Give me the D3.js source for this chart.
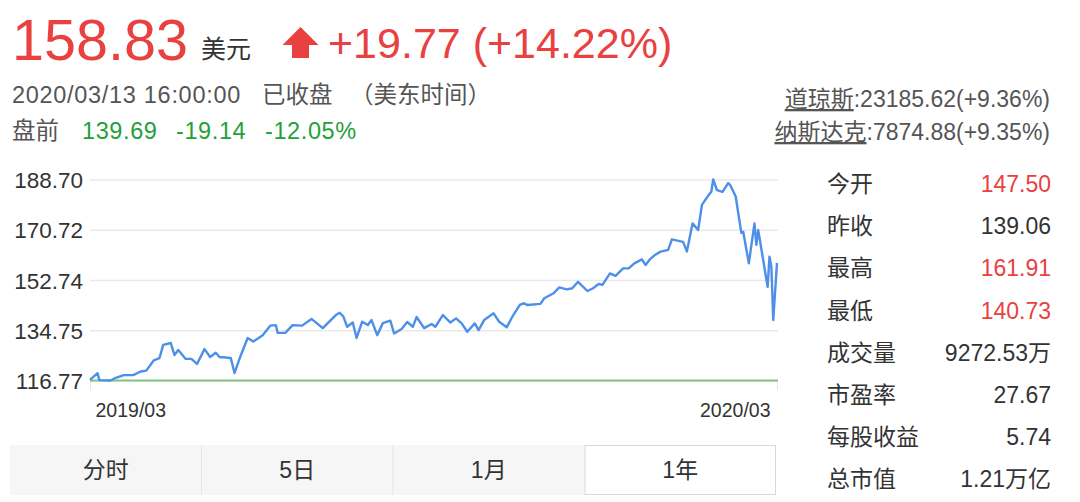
<!DOCTYPE html>
<html><head><meta charset="utf-8">
<script src="https://cdn.jsdelivr.net/npm/d3@7"></script>
<style>
html,body{margin:0;padding:0;background:#fff;}
svg{display:block;}
</style></head>
<body>
<svg id="c" width="1080" height="502"></svg>
<script>
// ---------- data ----------
const quotePrice = "158.83";
const quoteCurrency = "美元";
const quoteChange = "+19.77 (+14.22%)";
const quoteTime = "2020/03/13 16:00:00";
const quoteStatus = "已收盘";
const quoteZone = "（美东时间）";
const preLabel = "盘前";
const preValues = ["139.69", "-19.14", "-12.05%"];
const indexNames = ["道琼斯", "纳斯达克"];
const indexValues = [":23185.62(+9.36%)", ":7874.88(+9.35%)"];
const statLabels = ["今开", "昨收", "最高", "最低", "成交量", "市盈率", "每股收益", "总市值"];
const statValues = ["147.50", "139.06", "161.91", "140.73", "9272.53万", "27.67", "5.74", "1.21万亿"];
const statUp = [true, false, true, true, false, false, false, false];
const tabLabels = ["分时", "5日", "1月", "1年"];
const activeTab = 3;
const yTicks = [116.77, 134.75, 152.74, 170.72, 188.70];
const xTickDates = ["2019-03-13", "2020-03-13"];

const dates = ["2019-03-13","2019-03-17","2019-03-18","2019-03-24","2019-03-26","2019-03-31","2019-04-05","2019-04-09","2019-04-12","2019-04-16",
"2019-04-19","2019-04-21","2019-04-25","2019-04-27","2019-04-29","2019-05-03","2019-05-06","2019-05-09","2019-05-13","2019-05-16",
"2019-05-19","2019-05-21","2019-05-27","2019-05-29","2019-06-01","2019-06-05","2019-06-08","2019-06-13","2019-06-17","2019-06-20",
"2019-06-21","2019-06-25","2019-06-29","2019-07-04","2019-07-09","2019-07-15","2019-07-19","2019-07-22","2019-07-24","2019-07-26",
"2019-07-28","2019-07-31","2019-08-02","2019-08-05","2019-08-08","2019-08-10","2019-08-13","2019-08-16","2019-08-20","2019-08-22",
"2019-08-26","2019-08-29","2019-09-01","2019-09-03","2019-09-07","2019-09-11","2019-09-13","2019-09-17","2019-09-21","2019-09-24",
"2019-09-27","2019-09-30","2019-10-04","2019-10-06","2019-10-09","2019-10-14","2019-10-17","2019-10-21","2019-10-24","2019-10-28",
"2019-10-30","2019-11-01","2019-11-08","2019-11-10","2019-11-15","2019-11-18","2019-11-22","2019-11-25","2019-11-28","2019-12-03",
"2019-12-06","2019-12-09","2019-12-11","2019-12-15","2019-12-18","2019-12-22","2019-12-25","2019-12-28","2020-01-01","2020-01-03",
"2020-01-05","2020-01-08","2020-01-11","2020-01-15","2020-01-17","2020-01-20","2020-01-23","2020-01-25","2020-01-28","2020-01-31",
"2020-02-02","2020-02-05","2020-02-07","2020-02-08","2020-02-10","2020-02-13","2020-02-16","2020-02-17","2020-02-20","2020-02-23",
"2020-02-24","2020-02-27","2020-03-01","2020-03-02","2020-03-03","2020-03-08","2020-03-09","2020-03-10","2020-03-11","2020-03-13"];
const closes = [117.0,119.4,116.9,116.77,117.5,118.7,118.7,120.0,120.3,124.0,
124.8,129.5,130.2,125.9,127.7,124.5,124.5,122.7,128.0,125.2,
126.7,125.2,124.8,119.4,125.2,132.0,130.7,133.0,136.4,136.6,
133.8,133.8,136.6,136.4,138.8,135.5,138.2,140.2,141.0,139.6,
136.0,137.5,132.0,137.8,136.6,138.4,133.0,137.3,138.2,133.6,
135.2,137.7,136.0,139.5,135.5,137.0,136.0,140.2,137.5,139.0,
137.2,134.2,137.2,134.8,138.4,140.8,137.8,135.8,139.6,143.8,
144.4,143.8,144.2,146.2,148.0,150.1,149.4,149.8,152.1,148.8,
149.8,151.3,151.0,155.1,154.2,156.9,156.9,158.7,160.1,158.1,
159.9,161.7,162.9,163.5,167.3,166.8,166.4,162.9,173.0,170.6,
179.6,182.6,184.3,188.70,184.9,184.3,187.4,186.8,182.6,169.6,
170.0,158.7,173.0,165.3,170.6,150.3,161.1,157.5,138.4,158.83];

// ---------- drawing ----------
const svg = d3.select("#c");
const LAT = "'Liberation Sans', Arial, 'Noto Sans CJK SC', sans-serif";
const RED = "#e8413f", GREEN = "#24a03a", DARK = "#333", GRAY = "#555";
svg.append("rect").attr("width",1080).attr("height",502).attr("fill","#fff");

// header
svg.append("text").attr("x",12).attr("y",60).attr("font-family",LAT).attr("font-size",57.5)
  .attr("fill",RED).text(quotePrice);
svg.append("text").attr("x",201).attr("y",58).attr("font-family",LAT).attr("font-size",25)
  .attr("fill",DARK).text(quoteCurrency);
// arrow
const ax = 300.5;
svg.append("path").attr("d",`M${ax-18},45 L${ax},27 L${ax+18},45 L${ax+8.5},45 L${ax+8.5},58 L${ax-8.5},58 L${ax-8.5},45 Z`)
  .attr("fill",RED);
svg.append("text").attr("x",328).attr("y",58).attr("font-family",LAT).attr("font-size",43)
  .attr("fill",RED).text(quoteChange);

const l2 = svg.append("text").attr("x",12).attr("y",103).attr("font-family",LAT).attr("font-size",23.5).attr("fill",GRAY);
l2.append("tspan").attr("letter-spacing",0.7).text(quoteTime);
l2.append("tspan").attr("x",262).text(quoteStatus);
l2.append("tspan").attr("x",350).text(quoteZone);

const l3 = svg.append("text").attr("x",12).attr("y",139).attr("font-family",LAT).attr("font-size",23.5).attr("fill",GRAY);
l3.append("tspan").text(preLabel);
const preX = [82, 176, 265];
preValues.forEach((v,i)=> l3.append("tspan").attr("x",preX[i]).attr("fill",GREEN).attr("letter-spacing",0.6).text(v));

// index lines (right aligned)
[107, 140].forEach((by,i)=>{
  const t = svg.append("text").attr("x",1050).attr("y",by).attr("text-anchor","end")
    .attr("font-family",LAT).attr("font-size",23).attr("fill",GRAY);
  t.append("tspan").attr("text-decoration","underline").text(indexNames[i]);
  t.append("tspan").text(indexValues[i]);
});

// chart
const parse = d3.timeParse("%Y-%m-%d");
const series = dates.map((d,i)=>({date:parse(d), v:closes[i]}));
const x = d3.scaleTime().domain(xTickDates.map(parse)).range([90,777]);
const y = d3.scaleLinear().domain([yTicks[0], yTicks[yTicks.length-1]]).range([380.5,179.5]);

const gy = svg.append("g").attr("transform","translate(90,0)")
  .call(d3.axisLeft(y).tickValues(yTicks).tickFormat(d3.format(".2f")).tickSize(-688).tickPadding(7));
gy.select(".domain").remove();
gy.selectAll(".tick line").attr("stroke","#e9e9e9").attr("stroke-width",1.5);
gy.selectAll(".tick text").attr("font-family",LAT).attr("font-size",22.5).attr("fill",DARK).attr("dy","0.36em");

const gx = svg.append("g").attr("transform","translate(0,381)")
  .call(d3.axisBottom(x).tickValues(xTickDates.map(parse)).tickFormat(d3.timeFormat("%Y/%m")).tickSize(9).tickPadding(13));
gx.select(".domain").remove();
gx.selectAll(".tick line").attr("stroke","#e4e4e4");
gx.selectAll(".tick text").attr("font-family",LAT).attr("font-size",19.5).attr("fill",DARK)
  .attr("text-anchor",(d,i)=> i===0 ? "start":"end")
  .attr("dx",(d,i)=> i===0 ? 5 : -7);

// base (green) line at min
svg.append("line").attr("x1",x.range()[0]).attr("x2",x.range()[1]+1)
  .attr("y1",y(yTicks[0])).attr("y2",y(yTicks[0]))
  .attr("stroke","#7fc77f").attr("stroke-width",2);

svg.append("path").datum(series)
  .attr("d", d3.line().x(d=>x(d.date)).y(d=>y(d.v)))
  .attr("fill","none").attr("stroke","#4d8fe9").attr("stroke-width",2.4).attr("stroke-linejoin","round");

// stats panel
statLabels.forEach((lab,i)=>{
  const by = 192 + i*42.2;
  svg.append("text").attr("x",827).attr("y",by).attr("font-family",LAT).attr("font-size",23)
    .attr("fill",DARK).text(lab);
  svg.append("text").attr("x",1051).attr("y",by).attr("text-anchor","end").attr("font-family",LAT).attr("font-size",23)
    .attr("fill",statUp[i]?RED:DARK).text(statValues[i]);
});

// tabs
const tabX = d3.scaleBand().domain(tabLabels).range([10,776]);
const tabs = svg.append("g");
tabs.append("rect").attr("x",10).attr("y",445).attr("width",766).attr("height",50).attr("fill","#f6f6f6");
tabLabels.forEach((t,i)=>{
  if(i>0 && i!==activeTab) tabs.append("line").attr("x1",tabX(t)).attr("x2",tabX(t)).attr("y1",445).attr("y2",495).attr("stroke","#e6e6e6");
  if(i===activeTab){
    tabs.append("rect").attr("x",tabX(t)+0.5).attr("y",445.5).attr("width",tabX.bandwidth()-1).attr("height",49)
      .attr("fill","#fff").attr("stroke","#d9d9d9");
  }
  tabs.append("text").attr("x",tabX(t)+tabX.bandwidth()/2).attr("y",478).attr("text-anchor","middle")
    .attr("font-family",LAT).attr("font-size",23).attr("fill",DARK).text(t);
});
</script>
</body></html>
